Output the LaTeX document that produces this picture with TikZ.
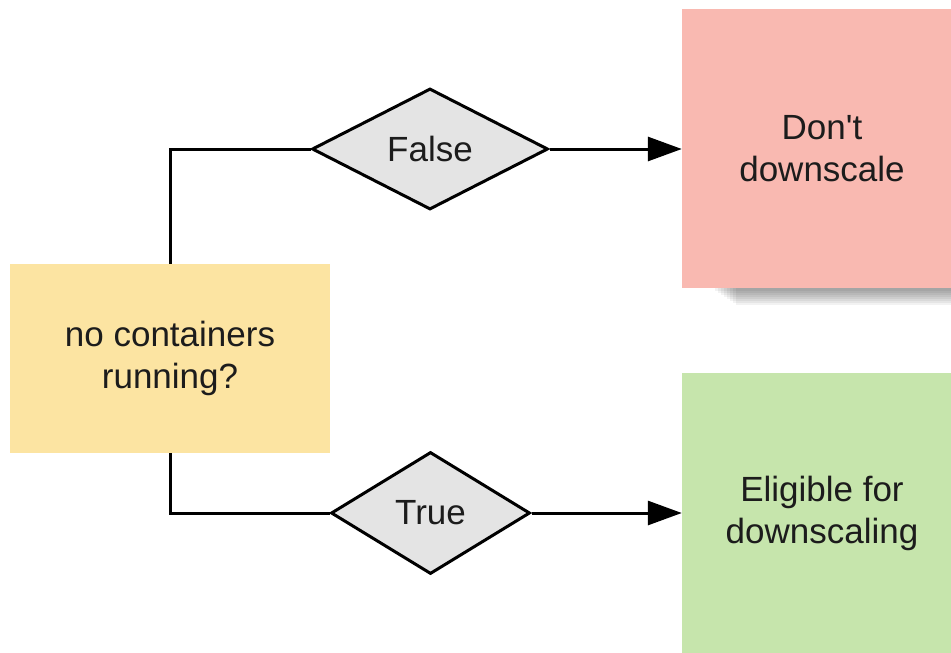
\documentclass[tikz,border=0pt]{standalone}
\usepackage{fontspec}
\newfontfamily\labelfont{Liberation Sans}
\usetikzlibrary{shapes.geometric,arrows.meta}
\definecolor{qfill}{HTML}{FCE4A2}
\definecolor{nofill}{HTML}{F9B9B1}
\definecolor{yesfill}{HTML}{C6E5AC}
\definecolor{dfill}{HTML}{E4E4E4}
\definecolor{ink}{HTML}{1C1C1C}
\tikzset{
  label font/.style={font=\labelfont\fontsize{35}{42}\selectfont, text=ink, align=center},
  question/.style={label font, rectangle, fill=qfill, inner sep=0pt,
    minimum width=320pt, minimum height=189pt},
  outcome/.style={label font, rectangle, inner sep=0pt,
    minimum width=280pt, minimum height=280pt},
  branch/.style={label font, diamond, draw=black, line width=3pt, fill=dfill,
    inner sep=0pt, aspect=2},
  link/.style={draw=black, line width=3pt},
  arrowlink/.style={link, -{Triangle[length=34pt,width=24pt]}},
  shadowlayer/.style={fill=black, opacity=0.05}
}
\begin{document}
\begin{tikzpicture}[x=1pt,y=-1pt]
  \useasboundingbox (0,0) rectangle (951,653);
  \clip (0,0) rectangle (951,653);
  \fill[white] (0,0) rectangle (951,653);

  % soft shadow under the "don't" card
  \foreach \i in {1,...,8}
    \fill[shadowlayer] (712+3*\i,286) rectangle (951,289.5+1.9*\i);

  % outcome boxes
  \node[outcome, fill=nofill, minimum height=279pt]
        (no) at (822,148.5) {Don't\\downscale};
  \node[outcome, fill=yesfill] (yes) at (822,513) {Eligible for\\downscaling};

  % question box
  \node[question] (q) at (170,358.5) {no containers\\running?};

  % decision diamonds
  \node[branch, minimum width=236pt, minimum height=121pt] (f) at (430,149) {False};
  \node[branch, minimum width=199pt, minimum height=122pt] (t) at (430.5,513) {True};

  % connectors
  \draw[link] (q.north) |- (f.west);
  \draw[link] (q.south) |- (t.west);
  \draw[arrowlink] (f.east) -- (f.east -| no.west);
  \draw[arrowlink] (t.east) -- (t.east -| yes.west);
\end{tikzpicture}
\end{document}
